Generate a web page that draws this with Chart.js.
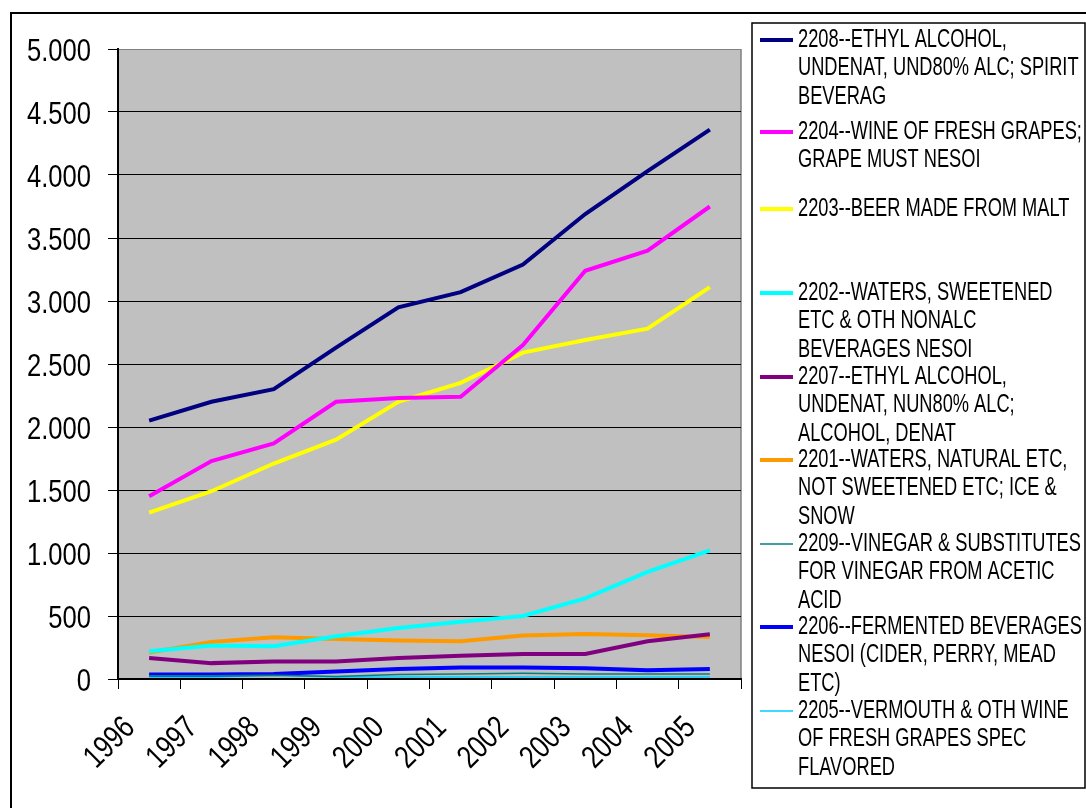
<!DOCTYPE html>
<html>
<head>
<meta charset="utf-8">
<script src="https://cdn.jsdelivr.net/npm/chart.js@4.4.0/dist/chart.umd.min.js"></script>
<style>
  html, body { margin: 0; padding: 0; background: #fff; }
  canvas { display: block; }
</style>
</head>
<body>
<canvas id="beverageChart" width="1086" height="808"></canvas>
<script>
// imports by HS heading, 1996-2005
const years = ['1996', '1997', '1998', '1999', '2000', '2001', '2002', '2003', '2004', '2005'];

const ethylUnd80    = [2050, 2200, 2300, 2630, 2950, 3070, 3290, 3690, 4030, 4360];
const wine          = [1450, 1730, 1870, 2200, 2230, 2240, 2650, 3240, 3400, 3750];
const beer          = [1320, 1490, 1710, 1900, 2200, 2350, 2590, 2690, 2780, 3110];
const watersSweet   = [220, 265, 260, 340, 405, 455, 500, 640, 850, 1020];
const ethylNun80    = [166, 126, 139, 139, 166, 185, 198, 198, 300, 355];
const watersNatural = [210, 294, 331, 318, 305, 300, 345, 358, 348, 334];
const vinegar       = [25, 25, 30, 20, 35, 40, 45, 40, 40, 40];
const fermented     = [35, 35, 40, 60, 80, 92, 92, 85, 70, 80];
const vermouth      = [15, 15, 30, 15, 15, 15, 15, 15, 15, 15];

const seriesNames = [
  ['2208--ETHYL ALCOHOL,', 'UNDENAT, UND80% ALC; SPIRIT', 'BEVERAG'],
  ['2204--WINE OF FRESH GRAPES;', 'GRAPE MUST NESOI'],
  ['2203--BEER MADE FROM MALT'],
  ['2202--WATERS, SWEETENED', 'ETC & OTH NONALC', 'BEVERAGES NESOI'],
  ['2207--ETHYL ALCOHOL,', 'UNDENAT, NUN80% ALC;', 'ALCOHOL, DENAT'],
  ['2201--WATERS, NATURAL ETC,', 'NOT SWEETENED ETC; ICE &', 'SNOW'],
  ['2209--VINEGAR & SUBSTITUTES', 'FOR VINEGAR FROM ACETIC', 'ACID'],
  ['2206--FERMENTED BEVERAGES', 'NESOI (CIDER, PERRY, MEAD', 'ETC)'],
  ['2205--VERMOUTH & OTH WINE', 'OF FRESH GRAPES SPEC', 'FLAVORED']
];
const seriesValues = [ethylUnd80, wine, beer, watersSweet, ethylNun80, watersNatural, vinegar, fermented, vermouth];

const seriesColors = ['#000080', '#ff00ff', '#ffff00', '#00ffff', '#800080', '#ff9900', '#008080', '#0000ff', '#00ccff'];
const seriesWidths = [4, 4, 4, 4, 4, 4, 1.5, 4, 1.5];

const FONT = '"Liberation Sans", Arial, sans-serif';
const NARROW = 0.8;                 // horizontal squeeze to mimic a narrow face
const legendRowY = [40, 132, 209, 293, 377, 460, 544, 627, 711];

function dotThousands(v) {
  return String(v).replace(/\B(?=(\d{3})+(?!\d))/g, '.');
}

function narrowText(ctx, text, x, y, angle) {
  ctx.save();
  ctx.translate(x, y);
  if (angle) ctx.rotate(angle);
  ctx.scale(NARROW, 1);
  ctx.fillText(text, 0, 0);
  ctx.restore();
}

// white page, outer frame, grey plot area, condensed tick labels and the boxed legend
const frameAndLegend = {
  id: 'frameAndLegend',
  beforeDraw(chart) {
    const { ctx, chartArea: a } = chart;
    ctx.save();
    ctx.fillStyle = '#fff';
    ctx.fillRect(0, 0, chart.width, chart.height);
    ctx.strokeStyle = '#000';
    ctx.lineWidth = 2;
    ctx.strokeRect(11, 13, chart.width + 20, chart.height + 20);
    ctx.fillStyle = '#c0c0c0';
    ctx.fillRect(a.left, a.top, a.right - a.left, a.bottom - a.top);
    ctx.strokeStyle = '#808080';
    ctx.lineWidth = 1.5;
    ctx.beginPath();
    ctx.moveTo(a.right, a.top);
    ctx.lineTo(a.right, a.bottom);
    ctx.stroke();
    ctx.restore();
  },
  afterDraw(chart) {
    const ctx = chart.ctx;
    const xs = chart.scales.x, ys = chart.scales.y;
    ctx.save();
    ctx.fillStyle = '#000';

    // y tick labels
    ctx.font = '32px ' + FONT;
    ctx.textAlign = 'right';
    ctx.textBaseline = 'alphabetic';
    ys.ticks.forEach(t => {
      narrowText(ctx, dotThousands(t.value), 91, ys.getPixelForValue(t.value) + 11.5, 0);
    });

    // x tick labels, slanted 45 degrees
    ctx.textBaseline = 'middle';
    years.forEach((yr, i) => {
      narrowText(ctx, yr, xs.getPixelForTick(i) - 19, 723, -Math.PI / 4);
    });

    // legend box
    ctx.strokeStyle = '#000';
    ctx.lineWidth = 1.5;
    ctx.strokeRect(752, 23, 333, 765);
    ctx.font = '25px ' + FONT;
    ctx.textAlign = 'left';
    ctx.textBaseline = 'middle';
    seriesNames.forEach((lines, i) => {
      const y0 = legendRowY[i];
      ctx.strokeStyle = seriesColors[i];
      ctx.lineWidth = seriesWidths[i];
      ctx.beginPath();
      ctx.moveTo(760, y0);
      ctx.lineTo(793, y0);
      ctx.stroke();
      lines.forEach((line, j) => {
        ctx.save();
        ctx.translate(798, y0 + j * 28.5);
        ctx.scale(0.73, 1);
        ctx.fillText(line, 0, 0);
        ctx.restore();
      });
    });
    ctx.restore();
  }
};

const datasets = seriesValues.map((vals, i) => ({
  label: seriesNames[i].join(' '),
  data: vals,
  borderColor: seriesColors[i],
  backgroundColor: seriesColors[i],
  borderWidth: seriesWidths[i],
  pointRadius: 0,
  tension: 0,
  fill: false
}));

new Chart(document.getElementById('beverageChart').getContext('2d'), {
  type: 'line',
  data: { labels: years, datasets },
  options: {
    responsive: false,
    animation: false,
    layout: { padding: { left: 10, top: 49, right: 345, bottom: 0 } },
    plugins: { legend: { display: false }, tooltip: { enabled: false } },
    scales: {
      x: {
        offset: true,
        grid: { display: true, drawOnChartArea: false, offset: true, tickLength: 10, color: '#000', lineWidth: 1 },
        border: { color: '#000', width: 2 },
        ticks: { display: false, autoSkip: false },
        afterFit(s) { s.height = 129; }
      },
      y: {
        min: 0, max: 5000,
        grid: {
          color: c => (c.tick && c.tick.value === 5000 ? '#808080' : '#000'),
          tickColor: '#000', tickLength: 10, lineWidth: 1
        },
        border: { color: '#000', width: 2 },
        ticks: { display: false, stepSize: 500 },
        afterFit(s) { s.width = 108; }
      }
    }
  },
  plugins: [frameAndLegend]
});
</script>
</body>
</html>
